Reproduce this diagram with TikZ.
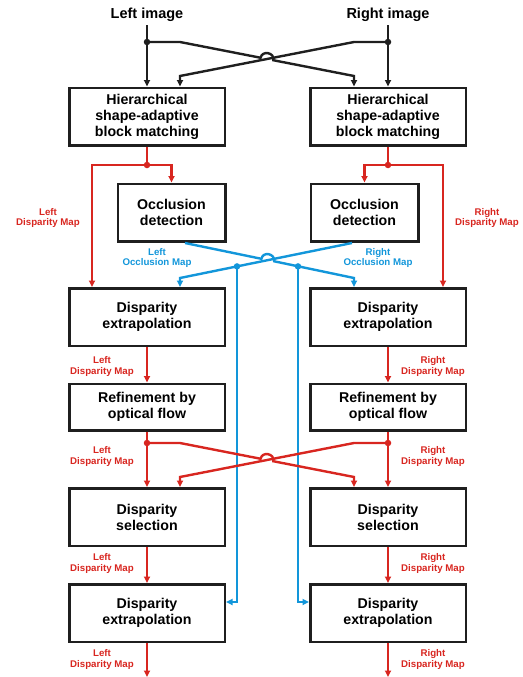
\documentclass[tikz,border=0pt]{standalone}
\usepackage{fontspec}
\setmainfont{Liberation Sans}
\usetikzlibrary{arrows.meta,calc}
\definecolor{mapred}{RGB}{216,38,32}
\definecolor{mapblue}{RGB}{18,150,218}

\begin{document}
\begin{tikzpicture}[x=1pt,y=-1pt,
  box/.style={draw=black!88,line width=2.5pt,minimum width=155.5pt,minimum height=57.5pt,inner sep=0pt,align=center,font=\fontsize{14.2}{16}\selectfont\bfseries},
  occ/.style={box,minimum width=107.5pt},
  title/.style={font=\fontsize{14.5}{17}\selectfont\bfseries},
  lbl/.style={align=center,font=\fontsize{9.7}{10.4}\selectfont\bfseries},
  wire/.style={line width=2.4pt,-{Triangle[length=6.5pt,width=6pt]}},
  blkline/.style={wire,draw=black!88},
  displine/.style={wire,draw=mapred},
  occline/.style={wire,draw=mapblue},
  dot/.style={circle,fill,inner sep=0pt,minimum size=6.5pt}]
\useasboundingbox (0,0) rectangle (522,677);

\node[title] (titL) at (147,15) {Left image};
\node[title] (titR) at (388,15) {Right image};

\node[box] (hsL) at (147,116.5) {Hierarchical\\shape-adaptive\\block matching};
\node[box] (hsR) at (388,116.5) {Hierarchical\\shape-adaptive\\block matching};
\node[occ,anchor=north east] (occL) at (226.5,182.5) {Occlusion\\detection};
\node[occ,anchor=north west] (occR) at (309.5,182.5) {Occlusion\\detection};
\node[box] (exL) at (147,317) {Disparity\\extrapolation};
\node[box] (exR) at (388,317) {Disparity\\extrapolation};
\node[box,minimum height=46.5pt] (refL) at (147,407) {Refinement by\\optical flow};
\node[box,minimum height=46.5pt] (refR) at (388,407) {Refinement by\\optical flow};
\node[box] (selL) at (147,517) {Disparity\\selection};
\node[box] (selR) at (388,517) {Disparity\\selection};
\node[box] (ex2L) at (147,613) {Disparity\\extrapolation};
\node[box] (ex2R) at (388,613) {Disparity\\extrapolation};

% images into matching
\coordinate (jL) at (147,42);
\coordinate (jR) at (388,42);
\coordinate (kL) at (180,76);
\coordinate (kR) at (354,76);
\draw[blkline] (titL.south) -- (hsL.north);
\draw[blkline] (titR.south) -- (hsR.north);
\draw[blkline] (jR) -- (354,42) -- (kL) -- (kL |- hsL.north);
\draw[blkline] (jL) -- (180,42) -- (260.6,57.75) .. controls (262.1,50) and (274.8,52.5) .. (273.4,60.25) -- (kR) -- (kR |- hsR.north);
\node[dot,black!88] (djL) at (jL) {};
\node[dot,black!88] (djR) at (jR) {};

% disparity maps after matching
\coordinate (rL) at (147,165);
\coordinate (rR) at (388,165);
\draw[displine,-] (hsL.south) -- (rL);
\draw[displine,-] (hsR.south) -- (rR);
\draw[displine] (rL) -| (occL.north);
\draw[displine] (rL) -| ([xshift=24pt]exL.north west);
\draw[displine] (rR) -| (occR.north);
\draw[displine] (rR) -| ([xshift=-24pt]exR.north east);
\node[dot,mapred] (drL) at (rL) {};
\node[dot,mapred] (drR) at (rR) {};
\node[lbl,text=mapred] (lmL1) at (48,218) {Left\\Disparity Map};
\node[lbl,text=mapred] (lmR1) at (487,218) {Right\\Disparity Map};

% occlusion maps
\coordinate (oaS) at (185,243);
\coordinate (oaE) at (354,278);
\coordinate (obS) at (352,243);
\coordinate (obE) at (180,278);
\draw[occline] (obS) -- (obE) -- (obE |- exL.north);
\draw[occline] (oaS) -- (261.4,258.8) .. controls (262.9,251) and (275.2,253.5) .. (274.2,261.3) -- (oaE) -- (oaE |- exR.north);
\coordinate (bdL) at ($(obS)!0.6686!(obE)$);
\coordinate (bdR) at ($(oaS)!0.6686!(oaE)$);
\draw[occline] (bdL) |- ([yshift=11pt]ex2L.east);
\draw[occline] (bdR) |- ([yshift=11pt]ex2R.west);
\node[dot,mapblue] (dbL) at (bdL) {};
\node[dot,mapblue] (dbR) at (bdR) {};
\node[lbl,text=mapblue] (loL) at (157,258) {Left\\Occlusion Map};
\node[lbl,text=mapblue] (loR) at (378,258) {Right\\Occlusion Map};

% left and right chains
\draw[displine] (exL) -- (refL);
\draw[displine] (exR) -- (refR);
\node[lbl,text=mapred] (lmL2) at (102,366.5) {Left\\Disparity Map};
\node[lbl,text=mapred] (lmR2) at (433,366.5) {Right\\Disparity Map};

\coordinate (sL) at (147,443);
\coordinate (sR) at (388,443);
\draw[displine] (refL) -- (selL);
\draw[displine] (refR) -- (selR);
\draw[displine] (sR) -- (354,443) -- (180,477) -- (180,487);
\draw[displine] (sL) -- (180,443) -- (260.6,458.75) .. controls (262.1,451) and (274.8,453.5) .. (273.4,461.25) -- (354,477) -- (354,487);
\node[dot,mapred] (dsL) at (sL) {};
\node[dot,mapred] (dsR) at (sR) {};
\node[lbl,text=mapred] (lmL3) at (102,456.5) {Left\\Disparity Map};
\node[lbl,text=mapred] (lmR3) at (433,456.5) {Right\\Disparity Map};

\draw[displine] (selL) -- (ex2L);
\draw[displine] (selR) -- (ex2R);
\node[lbl,text=mapred] (lmL4) at (102,563.5) {Left\\Disparity Map};
\node[lbl,text=mapred] (lmR4) at (433,563.5) {Right\\Disparity Map};

\coordinate (eL) at (147,677);
\coordinate (eR) at (388,677);
\draw[displine] (ex2L) -- (eL);
\draw[displine] (ex2R) -- (eR);
\node[lbl,text=mapred] (lmL5) at (102,659.5) {Left\\Disparity Map};
\node[lbl,text=mapred] (lmR5) at (433,659.5) {Right\\Disparity Map};
\end{tikzpicture}
\end{document}
